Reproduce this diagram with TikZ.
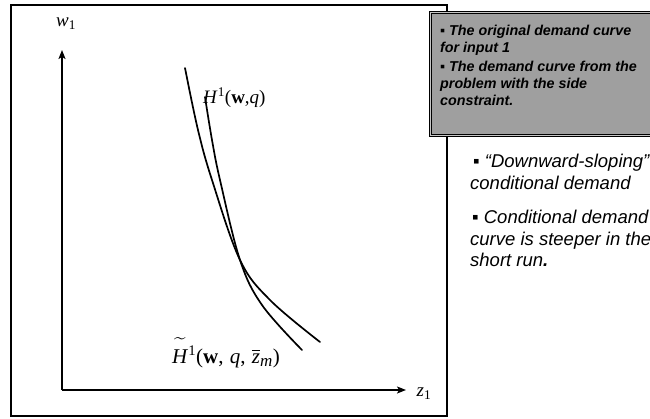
\documentclass[tikz,border=0pt]{standalone}
\usepackage{amsmath}
\usepackage{fontspec}
\setmainfont{Liberation Serif}
\newfontfamily\arial{Liberation Sans}
\usetikzlibrary{arrows.meta}
\begin{document}
\begin{tikzpicture}[x=1pt,y=-1pt,
  frame/.style={draw=black,line width=2pt},
  axis/.style={line width=1.3pt,-{Stealth[length=9pt,width=7pt,inset=2pt]}},
  curve/.style={line width=1.7pt,line cap=round},
  graybox/.style={draw=black,double=gray!45,double distance=1pt,line width=0.9pt,fill=gray!75,inner sep=0pt},
  boxtext/.style={font=\arial\bfseries\itshape\fontsize{14.3}{17}\selectfont,align=left,inner sep=0pt},
  sidetext/.style={font=\arial\itshape\fontsize{18.5}{21.5}\selectfont,align=left,inner sep=0pt},
  lab/.style={font=\fontsize{19}{22}\selectfont,inner sep=0pt},
  labt/.style={font=\fontsize{21}{24}\selectfont,inner sep=0pt},
  axlab/.style={font=\fontsize{19}{22}\selectfont,inner sep=0pt}]
\useasboundingbox (0,0) rectangle (650,418);
\fill[white] (0,0) rectangle (650,418);
\draw[frame] (11,5) rectangle (447,416);
% axes
\coordinate (O) at (62,390);
\coordinate (Ytop) at (62,50);
\coordinate (Xend) at (406,390);
\draw[axis] (O) -- (Ytop);
\draw[axis] (O) -- (Xend);
\node[axlab] (w1) at (66,24) {\textit{w}\textsubscript{1}};
\node[axlab] (z1) at (424,394) {\textit{z}\textsubscript{1}};
% curves
\draw[curve] plot[smooth,tension=0.6] coordinates {(185,68) (198,130) (212,180) (240,260) (270,300) (320,342)};
\draw[curve] plot[smooth,tension=0.6] coordinates {(205,97) (212,140) (220,180) (240,260) (262,305) (302,350)};
% curve labels
\node[lab,anchor=base west] (H) at (203,103) {\textit{H}\textsuperscript{1}(\textbf{w},\textit{q})};
\node[labt,anchor=base west] (Ht) at (172,363) {$\widetilde{\text{\textit{H}}\vphantom{\rule{0pt}{19pt}}}$\textsuperscript{1}(\textbf{w},\hspace{0.3em}\textit{q},\hspace{0.3em}$\overline{\text{\textit{z}}}_{\text{\fontsize{17}{19}\selectfont\textit{m}}}$)};
% gray box
\node[graybox,anchor=north west,minimum width=240pt,minimum height=123pt] (box) at (430,12) {};
\node[boxtext,anchor=north west] (boxtxt) at (440,25) {▪ The original demand curve\\for input 1\\[2pt]▪ The demand curve from the\\problem with the side\\constraint.};
% side text
\node[sidetext,anchor=north west] (side1) at (470,154) {\hspace*{3pt}▪ “Downward-sloping”\\conditional demand};
\node[sidetext,anchor=north west] (side2) at (470,210) {\hspace*{2pt}▪ Conditional demand\\curve is steeper in the\\short run\textbf{.}};
\end{tikzpicture}
\end{document}
